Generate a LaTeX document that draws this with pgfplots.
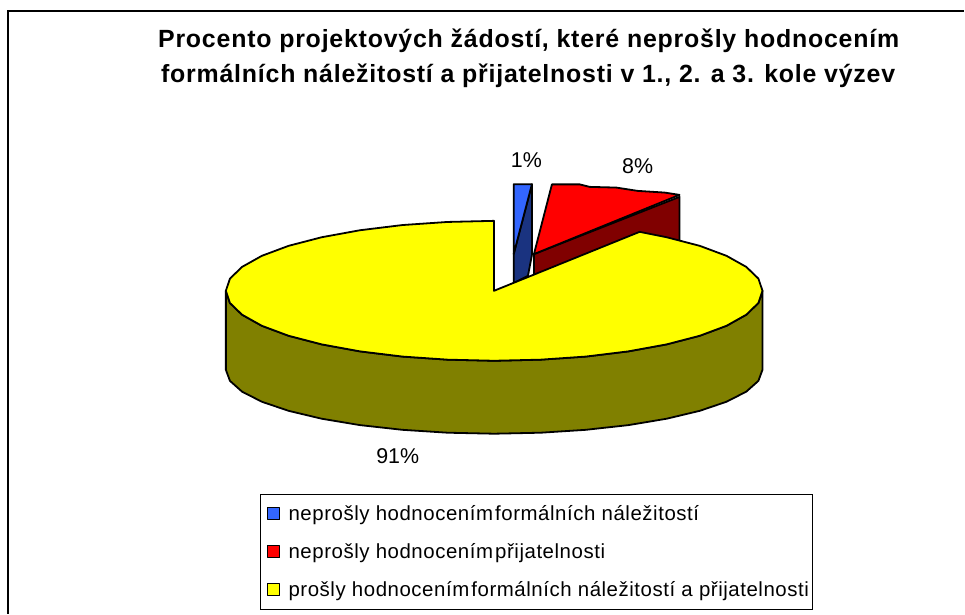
\documentclass[border=0pt]{standalone}
\usepackage{pgfplots}
\pgfplotsset{compat=1.18}
\usepackage{fontspec}
\setmainfont{Liberation Sans}
\newfontfamily\titlefont[LetterSpace=3.2]{Liberation Sans Bold}
\newfontfamily\legendfont[LetterSpace=2.7]{Liberation Sans}
\definecolor{bluetop}{HTML}{3366FF}
\definecolor{bluewall}{HTML}{1A3380}
\definecolor{redtop}{HTML}{FF0000}
\definecolor{redwall}{HTML}{800000}
\definecolor{yeltop}{HTML}{FFFF00}
\definecolor{yelwall}{HTML}{808000}
\begin{document}
\begin{tikzpicture}[x=1bp,y=1bp]
\begin{axis}[
  at={(0,0)}, anchor=south west,
  scale only axis, width=965bp, height=614bp,
  xmin=0, xmax=965, ymin=0, ymax=614, y dir=reverse,
  hide axis, clip=false,
  legend cell align=left,
  legend style={at={(axis cs:260,494)}, anchor=north west, draw=black, line width=1bp,
    font=\legendfont\fontsize{20.5}{22}\selectfont, inner xsep=2bp, inner ysep=9.5bp,
    row sep=17.5bp},
  area legend,
  legend image code/.code={\path (0bp,0bp) (22.5bp,0bp); \draw[#1,line width=1.3bp] (4.5bp,-5.8bp) rectangle (16.5bp,6.2bp);},
]
% page extent
\path (axis cs:0,0) (axis cs:965,614);
% frame: left and top only
\addplot[black, line width=1.3bp, forget plot] coordinates {(8,614) (8,11) (965,11)};
% blue slice wall, then top
\addplot[fill=bluewall, draw=black, line width=1.8bp, line join=round, forget plot] coordinates {(514,254.3) (532.3,184.3) (532.3,255) (528.3,276) (514,283.3)} -- cycle;
\addplot[fill=bluetop, draw=black, line width=1.8bp, line join=round] coordinates {(514,184.3) (532.3,184.3) (514,254.3)} -- cycle;
\addlegendentry{neprošly hodnocením\hspace{-0.2em} formálních náležitostí}
% red slice wall, then top
\addplot[fill=redwall, draw=black, line width=1.8bp, line join=round, forget plot] coordinates {(534.3,254.3) (680,197) (680,250) (534.3,285)} -- cycle;
\addplot[fill=redtop, draw=black, line width=1.8bp, line join=round] coordinates {(534.3,254.3) (552.3,184.5) (580,184.5) (590,187) (616.7,187.7) (638,191) (665,192.7) (680,195)} -- cycle;
\addlegendentry{neprošly hodnocením\hspace{-0.2em} přijatelnosti}
% yellow wall
\addplot[fill=yelwall, draw=black, line width=1.8bp, line join=round, forget plot] coordinates {
 (226,291) (230.1,303.2) (242.2,314.9) (262,326) (288.8,336) (321.9,344.6) (360.2,351.6) (402.7,356.8) (447.9,359.9) (494.5,361)
 (541.1,359.9) (586.3,356.8) (628.8,351.6) (667.1,344.6) (700.2,336) (727,326) (746.8,314.9) (758.9,303.2) (763,291)
 (763,370) (758.9,381.1) (746.8,391.9) (727,402) (700.2,411.1) (667.1,419) (628.8,425.4) (586.3,430.1) (541.1,433) (494.5,434)
 (447.9,433) (402.7,430.1) (360.2,425.4) (321.9,419) (288.8,411.1) (262,402) (242.2,391.9) (230.1,381.1) (226,370)} -- cycle;
% yellow top
\addplot[fill=yeltop, draw=black, line width=1.8bp, line join=round] coordinates {
 (494.3,291) (640,232) (667.1,237.4) (700.2,246) (727,256) (746.8,267.1) (758.9,278.8) (763,291)
 (758.9,303.2) (746.8,314.9) (727,326) (700.2,336) (667.1,344.6) (628.8,351.6) (586.3,356.8) (541.1,359.9) (494.5,361)
 (447.9,359.9) (402.7,356.8) (360.2,351.6) (321.9,344.6) (288.8,336) (262,326) (242.2,314.9) (230.1,303.2) (226,291)
 (230.1,278.8) (242.2,267.1) (262,256) (288.8,246) (321.9,237.4) (360.2,230.4) (402.7,225.2) (447.9,222.1) (494.3,221)} -- cycle;
\addlegendentry{prošly hodnocením\hspace{-0.2em} formálních náležitostí a přijatelnosti}
% texts
\node[font=\titlefont\fontsize{25}{28}\selectfont, anchor=base] at (axis cs:529,48)
  {Procento projektových žádostí, které neprošly hodnocením};
\node[font=\titlefont\fontsize{25}{28}\selectfont, anchor=base] at (axis cs:528.5,82.7)
  {formálních náležitostí a přijatelnosti v 1., 2. a 3. kole výzev};
\node[font=\fontsize{21.5}{24}\selectfont] at (axis cs:526.7,160) {1\%};
\node[font=\fontsize{21.5}{24}\selectfont] at (axis cs:638,166) {8\%};
\node[font=\fontsize{21.5}{24}\selectfont] at (axis cs:398,456) {91\%};
\end{axis}
\end{tikzpicture}
\end{document}
